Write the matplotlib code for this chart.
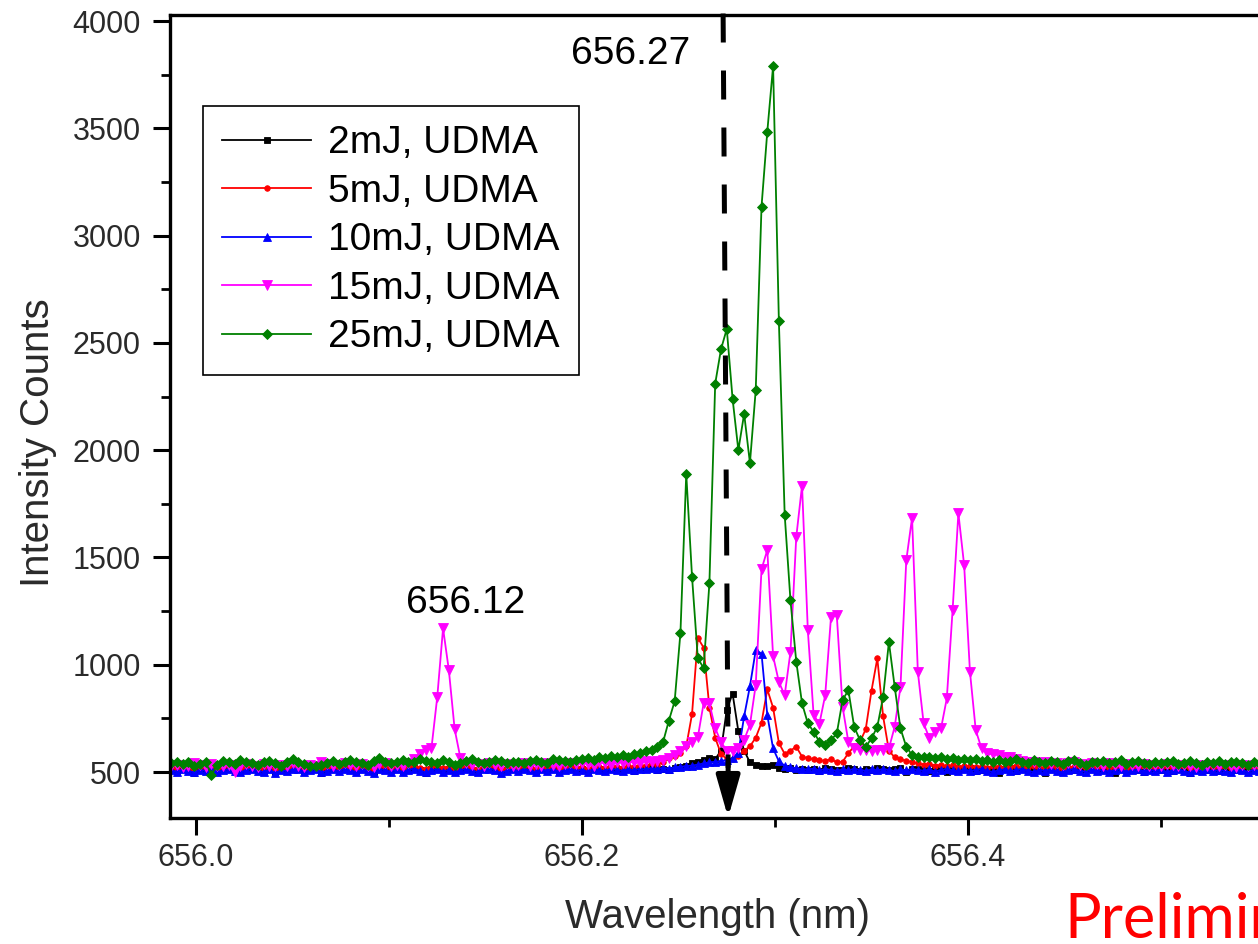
import numpy as np
import matplotlib
matplotlib.use('Agg')
import matplotlib.pyplot as plt
from matplotlib.ticker import MultipleLocator, FormatStrFormatter

# spectrometer grid: first pixel and step (nm)
wl_start = 655.987
wl_step = 0.003

labels = ['2mJ, UDMA', '5mJ, UDMA', '10mJ, UDMA', '15mJ, UDMA', '25mJ, UDMA']

int_2mj = [
    512, 505, 518, 508, 495, 515, 510, 520, 506, 512,
    518, 508, 500, 514, 520, 510, 505, 516, 498, 512,
    508, 515, 520, 505, 512, 518, 494, 510, 515, 508,
    520, 512, 506, 515, 510, 500, 518, 512, 508, 516,
    505, 514, 520, 510, 496, 512, 518, 508, 515, 502,
    512, 518, 510, 505, 516, 520, 512, 498, 510, 515,
    508, 518, 512, 505, 515, 510, 520, 506, 512, 518,
    510, 514, 505, 518, 512, 508, 520, 515, 510, 512,
    505, 518, 514, 520, 510, 512, 508, 518, 525, 530,
    540, 548, 556, 565, 560, 600, 790, 866, 690, 600,
    545, 535, 530, 528, 532, 520, 515, 518, 510, 512,
    508, 515, 505, 518, 512, 510, 508, 520, 512, 505,
    515, 510, 518, 512, 508, 515, 520, 498, 512, 515,
    510, 505, 518, 512, 500, 515, 508, 512, 518, 505,
    510, 516, 508, 494, 512, 518, 505, 512, 508, 515,
    510, 496, 512, 518, 505, 515, 510, 508, 516, 512,
    505, 518, 510, 495, 512, 508, 515, 510, 502, 512,
    518, 508, 512, 505, 515, 510, 494, 512, 516, 508,
    512, 505, 518, 510, 508, 515, 498, 512, 508, 515, 510]

int_5mj = [
    522, 515, 528, 518, 510, 525, 520, 530, 516, 522,
    528, 518, 512, 524, 530, 520, 515, 526, 508, 522,
    518, 525, 530, 515, 522, 528, 512, 520, 525, 518,
    530, 522, 516, 525, 520, 510, 528, 522, 518, 526,
    515, 524, 530, 520, 512, 522, 528, 518, 525, 512,
    522, 528, 520, 515, 526, 530, 522, 508, 520, 525,
    518, 528, 522, 515, 525, 520, 530, 516, 522, 528,
    520, 524, 515, 528, 522, 518, 530, 525, 520, 528,
    525, 532, 528, 540, 535, 545, 565, 575, 590, 620,
    770, 1125, 1080, 800, 660, 585, 560, 560, 575, 600,
    620, 660, 730, 885, 800, 635, 585, 600, 618, 572,
    565, 560, 555, 552, 560, 545, 548, 588, 620, 640,
    700, 880, 1030, 760, 600, 568, 560, 552, 548, 540,
    535, 538, 530, 534, 528, 532, 525, 530, 528, 522,
    526, 520, 528, 524, 518, 525, 530, 520, 522, 526,
    518, 524, 528, 520, 515, 525, 522, 528, 518, 524,
    520, 526, 518, 522, 528, 515, 524, 520, 526, 518,
    524, 520, 528, 516, 522, 526, 518, 524, 520, 528,
    522, 518, 526, 520, 515, 524, 528, 520, 518, 525, 522]

int_10mj = [
    508, 502, 512, 505, 498, 510, 506, 515, 500, 508,
    512, 504, 498, 510, 515, 506, 500, 512, 495, 508,
    505, 512, 516, 500, 508, 514, 498, 506, 512, 504,
    515, 508, 500, 512, 506, 496, 514, 508, 502, 512,
    500, 510, 516, 506, 498, 508, 514, 502, 510, 498,
    508, 514, 506, 500, 512, 516, 508, 496, 506, 512,
    504, 514, 508, 500, 512, 506, 516, 502, 508, 514,
    506, 510, 502, 514, 508, 504, 516, 510, 506, 512,
    508, 515, 512, 518, 514, 520, 516, 522, 525, 528,
    530, 535, 540, 545, 548, 552, 556, 565, 590, 760,
    900, 1068, 1052, 765, 610, 550, 530, 522, 518, 514,
    512, 516, 508, 514, 510, 506, 512, 508, 515, 510,
    506, 512, 508, 514, 510, 504, 512, 508, 515, 510,
    506, 512, 502, 510, 514, 508, 504, 512, 506, 510,
    514, 506, 500, 510, 512, 504, 510, 514, 506, 500,
    510, 506, 512, 504, 498, 510, 514, 506, 502, 512,
    506, 510, 502, 508, 514, 500, 508, 512, 504, 510,
    506, 512, 500, 508, 514, 504, 498, 510, 506, 512,
    504, 510, 506, 498, 512, 508, 502, 510, 506, 500, 508]

int_15mj = [
    528, 535, 522, 530, 540, 532, 525, 536, 530, 526,
    534, 498, 528, 536, 530, 524, 538, 530, 526, 535,
    530, 540, 528, 522, 535, 530, 545, 538, 528, 534,
    540, 532, 526, 538, 530, 524, 536, 542, 530, 535,
    528, 540, 560, 585, 602, 612, 850, 1170, 975, 700,
    565, 540, 532, 536, 528, 540, 535, 530, 538, 526,
    534, 540, 530, 536, 528, 542, 535, 530, 538, 540,
    536, 542, 538, 530, 545, 540, 535, 548, 542, 545,
    548, 540, 552, 545, 550, 556, 565, 580, 600, 620,
    640, 663, 820, 820, 705, 640, 600, 598, 610, 650,
    720, 905, 1445, 1535, 1040, 920, 858, 1060, 1595, 1835,
    1160, 765, 726, 858, 1223, 1230, 804, 641, 610, 605,
    602, 600, 602, 604, 610, 711, 897, 1486, 1685, 967,
    727, 657, 688, 703, 843, 1254, 1706, 1463, 967, 695,
    610, 587, 582, 579, 572, 568, 560, 552, 548, 545,
    540, 545, 538, 542, 535, 540, 546, 534, 538, 542,
    536, 530, 540, 534, 528, 538, 532, 526, 536, 530,
    534, 528, 538, 532, 526, 535, 530, 524, 534, 528,
    532, 526, 535, 530, 524, 532, 528, 534, 526, 530, 528]

int_25mj = [
    540, 545, 536, 548, 530, 538, 545, 488, 532, 552,
    548, 538, 556, 545, 540, 535, 548, 552, 540, 530,
    545, 560, 548, 538, 530, 527, 535, 542, 550, 538,
    545, 555, 548, 540, 532, 550, 565, 548, 540, 545,
    555, 548, 545, 560, 552, 548, 540, 555, 545, 535,
    542, 552, 560, 548, 540, 545, 556, 550, 542, 548,
    545, 540, 552, 558, 548, 542, 560, 555, 550, 545,
    556, 560, 566, 558, 570, 565, 574, 568, 578, 572,
    582, 590, 596, 605, 615, 640, 740, 830, 1150, 1890,
    1410, 1030, 985, 1380, 2310, 2470, 2565, 2240, 2000, 2170,
    1940, 2280, 3135, 3485, 3790, 2600, 1700, 1300, 1015, 820,
    727, 688, 641, 626, 649, 680, 835, 882, 711, 649,
    618, 657, 711, 850, 1106, 897, 703, 618, 579, 572,
    570, 572, 565, 568, 560, 566, 558, 562, 555, 560,
    552, 558, 548, 556, 545, 552, 560, 548, 542, 555,
    548, 540, 552, 545, 538, 550, 556, 542, 535, 548,
    545, 552, 540, 548, 555, 538, 545, 550, 542, 536,
    548, 540, 546, 552, 538, 544, 550, 540, 535, 548,
    542, 550, 538, 545, 548, 540, 535, 546, 542, 538, 545]

series = [int_2mj, int_5mj, int_10mj, int_15mj, int_25mj]
colors = ['#000000', '#ff0000', '#0000ff', '#ff00ff', '#008000']
markers = ['s', 'o', '^', 'v', 'D']
msizes = [5, 4, 6, 6.5, 5.5]

wavelength = wl_start + wl_step * np.arange(len(int_2mj))

plt.rcParams['font.family'] = ['Liberation Sans', 'DejaVu Sans']

fig = plt.figure(figsize=(12.58, 9.44), dpi=100)
# axes run past the right edge of the picture, as in the cropped original
ax = fig.add_axes([0.1351, 0.1335, 0.9259, 0.8506])

for vals, c, m, ms, lab in zip(series, colors, markers, msizes, labels):
    ax.plot(wavelength, vals, color=c, marker=m, markersize=ms, lw=1.3,
            markeredgewidth=0.6, label=lab)

ax.set_xlim(655.9865, 656.59)
ax.set_ylim(286, 4028)
ax.xaxis.set_major_locator(MultipleLocator(0.2))
ax.xaxis.set_minor_locator(MultipleLocator(0.1))
ax.xaxis.set_major_formatter(FormatStrFormatter('%.1f'))
ax.yaxis.set_major_locator(MultipleLocator(500))
ax.yaxis.set_minor_locator(MultipleLocator(250))

for s in ax.spines.values():
    s.set_linewidth(2.4)
ax.tick_params(which='major', direction='out', length=12, width=2.2,
               labelsize=22, labelcolor='#2a2a2a')
ax.tick_params(axis='x', which='major', pad=6)
ax.tick_params(axis='y', which='major', pad=9)
ax.tick_params(which='minor', direction='out', length=6.5, width=2.0)

ax.set_xlabel('Wavelength (nm)', fontsize=29, color='#2a2a2a')
ax.set_ylabel('Intensity Counts', fontsize=29, color='#2a2a2a', va='center')
ax.xaxis.set_label_coords(0.470, -0.100)
ax.yaxis.set_label_coords(-0.1132, 0.468)

# H-alpha marker line with arrow
ax.plot([656.2731, 656.2757], [4035, 520], color='black', lw=3.6,
        linestyle=(0, (5.8, 5.6)), clip_on=False, zorder=6)
ax.annotate('', xy=(656.2757, 288), xytext=(656.2757, 540),
            arrowprops=dict(arrowstyle='-|>,head_length=1.26,head_width=0.36',
                            color='black', lw=3.6, mutation_scale=20,
                            shrinkA=0, shrinkB=0), zorder=6)

ax.text(656.2254, 3799, '656.27', fontsize=28, ha='center', va='baseline')
ax.text(656.1399, 1240, '656.12', fontsize=28, ha='center', va='baseline')

leg = ax.legend(loc='upper left', bbox_to_anchor=(0.0284, 0.8867),
                fontsize=28, numpoints=1, handlelength=2.27, handletextpad=0.44,
                labelspacing=0.32, borderpad=0.5, borderaxespad=0,
                fancybox=False, framealpha=1, edgecolor='black')
leg.get_frame().set_linewidth(1.2)

fig.text(1064 / 1258, 1 - 938 / 944, 'Preliminary', color='red', fontsize=44,
         family=['Lato', 'DejaVu Sans'], va='baseline', ha='left')

fig.savefig('out.png', dpi=100)
